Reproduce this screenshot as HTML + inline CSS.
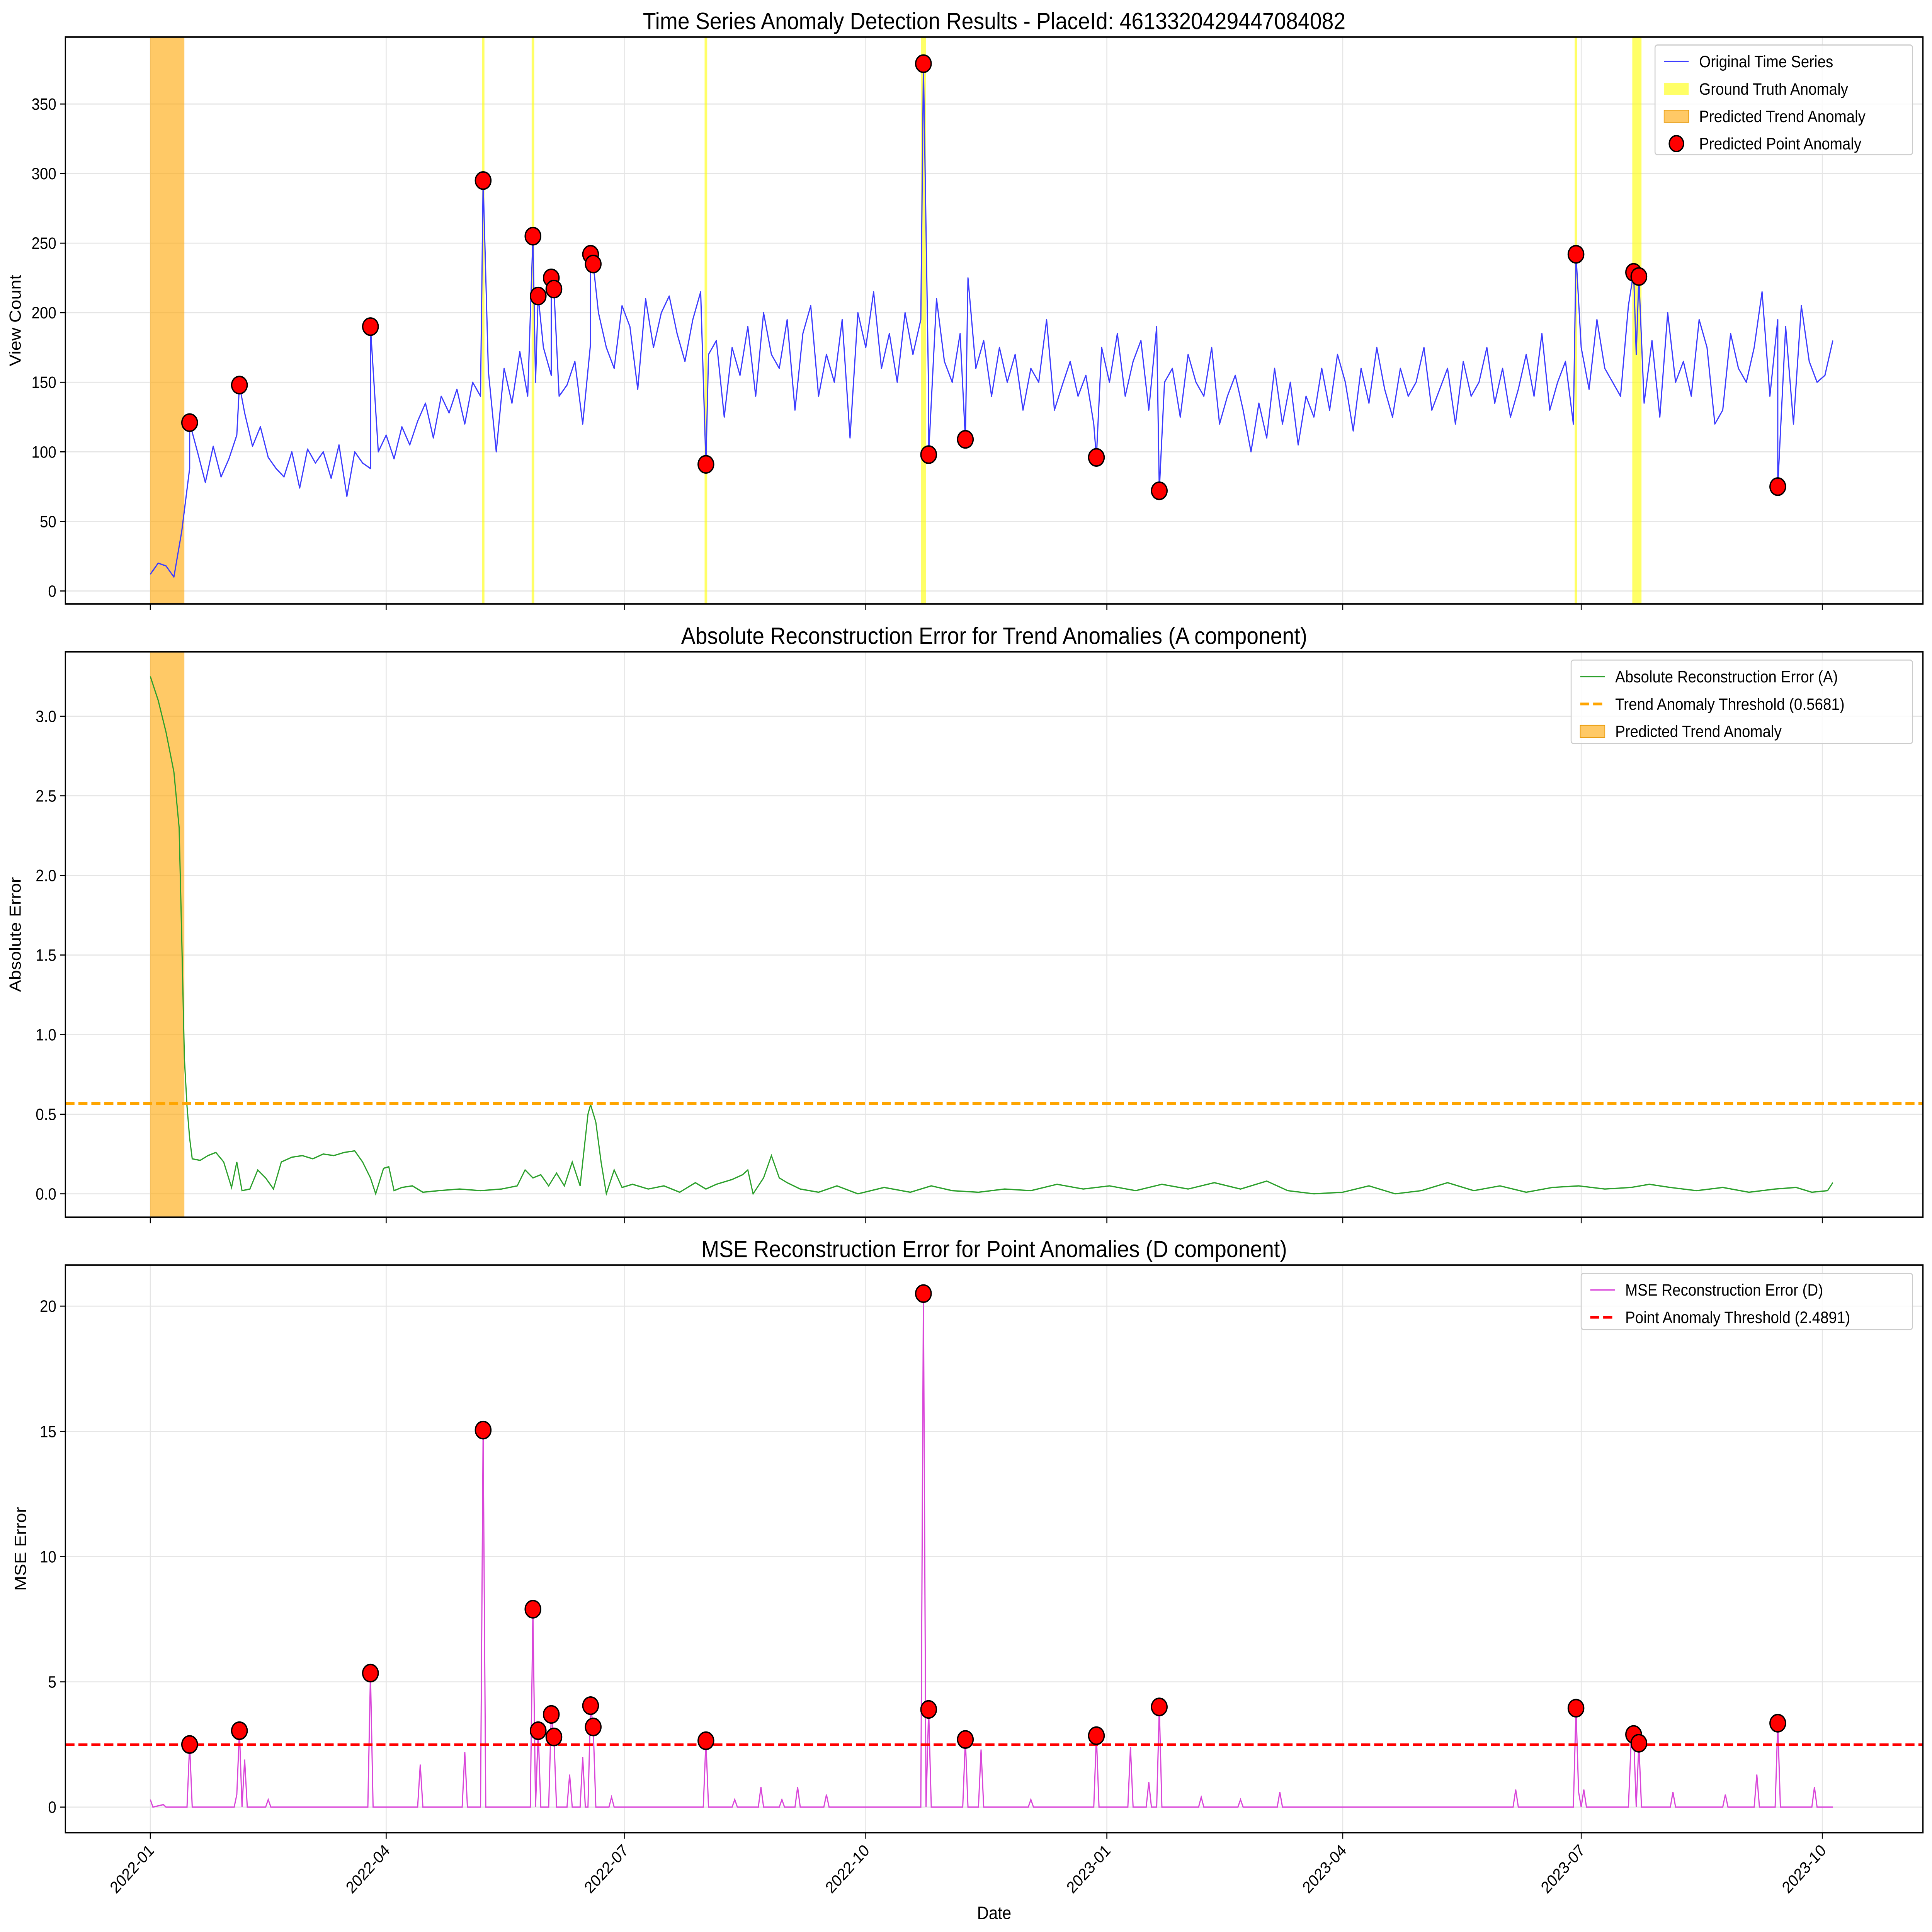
<!DOCTYPE html>
<html><head><meta charset="utf-8"><style>
html,body{margin:0;padding:0;background:#fff;width:100%;height:100%;overflow:hidden;}
svg{display:block;position:absolute;left:0;top:0;width:100vw;height:100vh;font-family:"Liberation Sans","DejaVu Sans",sans-serif;}
</style></head><body>
<svg id="chart" viewBox="0 0 5964 5368" preserveAspectRatio="none" xmlns="http://www.w3.org/2000/svg"></svg>
<script>
// ---- data ----
const tickLabels = ["2022-01","2022-04","2022-07","2022-10","2023-01","2023-04","2023-07","2023-10"];
const tickDays = [0,90,181,273,365,455,546,638];
// view counts, every 3 days from 2022-01-01
const viewVals = [12,20,18,10,43,88,100,78,104,82,
95,112,128,104,118,96,88,82,100,74,
102,92,100,81,105,68,100,92,88,100,
112,95,118,105,122,135,110,140,128,145,
120,150,140,158,100,160,135,172,140,150,
175,155,140,148,165,120,178,200,175,160,
205,190,145,210,175,200,212,185,165,195,
215,170,180,125,175,155,190,140,200,170,
160,195,130,185,205,140,170,150,195,110,
200,175,215,160,185,150,200,170,195,140,
210,165,150,185,225,160,180,140,175,150,
170,130,160,150,195,130,148,165,140,155,
120,175,150,185,140,165,180,130,190,150,
160,125,170,150,140,175,120,140,155,130,
100,135,110,160,120,150,105,140,125,160,
130,170,150,115,160,135,175,145,125,160,
140,150,175,130,145,160,120,165,140,150,
175,135,160,125,145,170,140,185,130,150,
165,120,175,145,195,160,150,140,205,170,
135,180,125,200,150,165,140,195,175,120,
130,185,160,150,175,215,140,195,190,120,
205,165,150,155,180];
const anomDays = [15,34,84,127,146,148,153,154,168,169,212,295,297,311,361,385,544,566,568,621];
const anomVals = [121,148,190,295,255,212,225,217,242,235,91,379,98,109,96,72,242,229,226,75];
const anomD = [2.5,3.05,5.35,15.05,7.9,3.05,3.7,2.8,4.05,3.2,2.65,20.5,3.9,2.7,2.85,4.0,3.95,2.9,2.55,3.35];
const gtStart = [126.5,145.5,211.5,294,543.5,565.5];
const gtEnd = [127.5,146.5,212.5,296,544.5,569];
const trendStart = 0, trendEnd = 13;
const aDays = [0,3,6,9,11,12,13,14,15,16,19,22,25,28,31,33,35,38,41,44,47,50,54,58,62,66,70,74,78,81,84,86,89,91,93,96,100,104,110,118,126,134,140,143,146,149,152,155,158,161,164,167,168,170,172,174,177,180,184,190,196,202,208,212,216,222,226,228,230,234,237,240,243,248,255,262,270,280,290,298,306,316,326,336,346,356,366,376,386,396,406,416,426,434,444,455,465,475,485,495,505,515,525,535,545,555,565,572,580,590,600,610,620,628,634,640,642];
const aVals = [3.25,3.1,2.9,2.65,2.3,1.6,0.85,0.55,0.35,0.22,0.21,0.24,0.26,0.2,0.04,0.2,0.02,0.03,0.15,0.1,0.03,0.2,0.23,0.24,0.22,0.25,0.24,0.26,0.27,0.2,0.1,0.0,0.16,0.17,0.02,0.04,0.05,0.01,0.02,0.03,0.02,0.03,0.05,0.15,0.1,0.12,0.05,0.13,0.05,0.2,0.05,0.5,0.56,0.45,0.2,0.0,0.15,0.04,0.06,0.03,0.05,0.01,0.07,0.03,0.06,0.09,0.12,0.15,0.0,0.1,0.24,0.1,0.07,0.03,0.01,0.05,0.0,0.04,0.01,0.05,0.02,0.01,0.03,0.02,0.06,0.03,0.05,0.02,0.06,0.03,0.07,0.03,0.08,0.02,0.0,0.01,0.05,0.0,0.02,0.07,0.02,0.05,0.01,0.04,0.05,0.03,0.04,0.06,0.04,0.02,0.04,0.01,0.03,0.04,0.01,0.02,0.07];
const dDays = [0,1,5,6,14,15,16,32,33,34,35,36,37,44,45,46,83,84,85,102,103,104,119,120,121,126,127,128,145,146,147,148,149,152,153,154,155,159,160,161,164,165,166,167,168,169,170,175,176,177,211,212,213,222,223,224,232,233,234,240,241,242,246,247,248,257,258,259,294,295,296,297,298,310,311,312,316,317,318,335,336,337,360,361,362,373,374,375,380,381,382,384,385,386,400,401,402,415,416,417,430,431,432,520,521,522,543,544,545,546,547,548,564,565,566,567,568,569,580,581,582,600,601,602,612,613,614,620,621,622,634,635,636,642];
const dVals = [0.3,0,0.1,0,0,2.5,0,0,0.5,3.05,0,1.9,0,0,0.3,0,0,5.35,0,0,1.7,0,0,2.2,0,0,15.05,0,0,7.9,0,3.05,0,0,3.7,2.8,0,0,1.3,0,0,2.0,0,0,4.05,3.2,0,0,0.4,0,0,2.65,0,0,0.3,0,0,0.8,0,0,0.3,0,0,0.8,0,0,0.5,0,0,20.5,0,3.9,0,0,2.7,0,0,2.3,0,0,0.3,0,0,2.85,0,0,2.4,0,0,1.0,0,0,4.0,0,0,0.4,0,0,0.3,0,0,0.6,0,0,0.7,0,0,3.95,0.6,0,0.7,0,0,2.5,2.9,0,2.55,0,0,0.6,0,0,0.5,0,0,1.3,0,0,3.35,0,0,0.8,0,0];

// ---- layout ----
const NS="http://www.w3.org/2000/svg";
const svg=document.getElementById('chart');
const L=202,R=5936;
const X0=464, PXD=8.09;
const x=d=>X0+d*PXD;
function el(tag,attrs,parent){const e=document.createElementNS(NS,tag);for(const k in attrs)e.setAttribute(k,attrs[k]);(parent||svg).appendChild(e);return e;}
function txt(s,attrs,parent){const e=el('text',attrs,parent);e.textContent=s;return e;}
function path(pts){return pts.map((p,i)=>(i?'L':'M')+p[0].toFixed(1)+' '+p[1].toFixed(1)).join('');}

const panels=[
 {top:103,bot:1678,v0:0,p0:1642,v1:350,p1:289,ticks:[0,50,100,150,200,250,300,350],fmt:v=>String(v),title:"Time Series Anomaly Detection Results - PlaceId: 4613320429447084082",ylabel:"View Count",name:"view-count-panel"},
 {top:1811,bot:3382,v0:0,p0:3317,v1:3,p1:1990,ticks:[0,0.5,1,1.5,2,2.5,3],fmt:v=>v.toFixed(1),title:"Absolute Reconstruction Error for Trend Anomalies (A component)",ylabel:"Absolute Error",name:"trend-error-panel"},
 {top:3515,bot:5092,v0:0,p0:5021,v1:20,p1:3629,ticks:[0,5,10,15,20],fmt:v=>String(v),title:"MSE Reconstruction Error for Point Anomalies (D component)",ylabel:"MSE Error",name:"point-error-panel"}
];
panels.forEach((p,pi)=>{
 p.y=v=>p.p0+(v-p.v0)*(p.p1-p.p0)/(p.v1-p.v0);
 const g=el('g',{});
 
 
 p.g=g;
 const cp=el('clipPath',{id:'clip'+pi},g);el('rect',{x:L,y:p.top,width:R-L,height:p.bot-p.top},cp);
 tickDays.forEach(d=>el('line',{x1:x(d),x2:x(d),y1:p.top,y2:p.bot,stroke:'#e5e5e5','stroke-width':3},g));
 p.ticks.forEach(v=>el('line',{x1:L,x2:R,y1:p.y(v),y2:p.y(v),stroke:'#e5e5e5','stroke-width':3},g));
 const t=txt(p.title,{x:(L+R)/2,y:p.top-22,'font-size':66,'text-anchor':'middle',fill:'#000'},g);
 
 
 p.ticks.forEach(v=>{el('line',{x1:L-17,x2:L,y1:p.y(v),y2:p.y(v),stroke:'#000','stroke-width':3},g);
  const tl=txt(p.fmt(v),{x:L-28,y:p.y(v)+16,'font-size':46,'text-anchor':'end'},g);
  
  });
 const yl=txt(p.ylabel,{x:0,y:0,'font-size':50,'text-anchor':'middle',transform:`translate(${pi==2?80:64},${(p.top+p.bot)/2}) rotate(-90)`},g);
 
 
 tickDays.forEach(d=>el('line',{x1:x(d),x2:x(d),y1:p.bot,y2:p.bot+17,stroke:'#000','stroke-width':3},g));
});

// panel 1
{const p=panels[0],g=p.g,c=el('g',{'clip-path':'url(#clip0)'},g);
 const tr=el('rect',{x:x(trendStart),y:p.top,width:x(trendEnd)-x(trendStart),height:p.bot-p.top,fill:'#ffa500','fill-opacity':0.6},c);
 
 
 gtStart.forEach((s,i)=>{const r=el('rect',{x:x(s),y:p.top,width:Math.max(8,x(gtEnd[i])-x(s)),height:p.bot-p.top,fill:'#ffff00','fill-opacity':0.6},c);
  
  });
 const pts=viewVals.map((v,i)=>[i*3,v]).concat(anomDays.map((d,i)=>[d,anomVals[i]])).sort((a,b)=>a[0]-b[0]);
 const ln=el('path',{d:path(pts.map(q=>[x(q[0]),p.y(q[1])])),fill:'none',stroke:'#3c3cff','stroke-width':3.6,'stroke-linejoin':'round'},c);
 
 
 anomDays.forEach((d,i)=>{const m=el('circle',{cx:x(d),cy:p.y(anomVals[i]),r:24,fill:'#ff0000',stroke:'#000','stroke-width':4},c);
  
  });
}
// panel 2
{const p=panels[1],g=p.g,c=el('g',{'clip-path':'url(#clip1)'},g);
 const tr=el('rect',{x:x(trendStart),y:p.top,width:x(trendEnd)-x(trendStart),height:p.bot-p.top,fill:'#ffa500','fill-opacity':0.6},c);
 
 
 const ln=el('path',{d:path(aDays.map((d,i)=>[x(d),p.y(aVals[i])])),fill:'none',stroke:'#2ca02c','stroke-width':3.6},c);
 
 
 const th=el('line',{x1:L,x2:R,y1:p.y(0.5681),y2:p.y(0.5681),stroke:'#ffa500','stroke-width':7.5,'stroke-dasharray':'28 12'},c);
 
 
}
// panel 3
{const p=panels[2],g=p.g,c=el('g',{'clip-path':'url(#clip2)'},g);
 const ln=el('path',{d:path(dDays.map((d,i)=>[x(d),p.y(dVals[i])])),fill:'none',stroke:'#d946d9','stroke-width':3.6},c);
 
 
 const th=el('line',{x1:L,x2:R,y1:p.y(2.4891),y2:p.y(2.4891),stroke:'#ff0000','stroke-width':7.5,'stroke-dasharray':'28 12'},c);
 
 
 anomDays.forEach((d,i)=>{const m=el('circle',{cx:x(d),cy:p.y(anomD[i]),r:24,fill:'#ff0000',stroke:'#000','stroke-width':4},c);
  
  });
 tickLabels.forEach((s,i)=>{const t=txt(s,{x:0,y:0,'font-size':46,'text-anchor':'end',transform:`translate(${x(tickDays[i])+14},${p.bot+52}) rotate(-45)`},g);
  
  });
 const xl=txt('Date',{x:(L+R)/2,y:5332,'font-size':50,'text-anchor':'middle'},g);
 
 
}
panels.forEach(p=>el('rect',{x:L,y:p.top,width:R-L,height:p.bot-p.top,fill:'none',stroke:'#000','stroke-width':4},p.g));

function legend(x0,y0,w,h,items){
 const g=el('g',{});
 
 
 el('rect',{x:x0,y:y0,width:w,height:h,rx:8,fill:'#fff','fill-opacity':0.85,stroke:'#ccc','stroke-width':3},g);
 items.forEach((it,i)=>{const cy=y0+46+i*76;const sx=x0+28;
  if(it.k==='line')el('line',{x1:sx,x2:sx+76,y1:cy,y2:cy,stroke:it.c,'stroke-width':it.w||3.6,'stroke-dasharray':it.dash||'none'},g);
  else if(it.k==='rect')el('rect',{x:sx,y:cy-17,width:76,height:34,fill:it.c,'fill-opacity':0.6,stroke:it.s||'none','stroke-width':2},g);
  else el('circle',{cx:sx+38,cy:cy,r:22,fill:'#f00',stroke:'#000','stroke-width':4},g);
  const t=txt(it.t,{x:sx+108,y:cy+16,'font-size':46},g);
  
  });
}
legend(5109,125,795,305,[{k:'line',c:'#3c3cff',t:'Original Time Series'},{k:'rect',c:'#ffff00',t:'Ground Truth Anomaly'},{k:'rect',c:'#ffa500',s:'#e69500',t:'Predicted Trend Anomaly'},{k:'dot',t:'Predicted Point Anomaly'}]);
legend(4850,1834,1054,232,[{k:'line',c:'#2ca02c',t:'Absolute Reconstruction Error (A)'},{k:'line',c:'#ffa500',w:7.5,dash:'28 12',t:'Trend Anomaly Threshold (0.5681)'},{k:'rect',c:'#ffa500',s:'#e69500',t:'Predicted Trend Anomaly'}]);
legend(4881,3538,1023,156,[{k:'line',c:'#d946d9',t:'MSE Reconstruction Error (D)'},{k:'line',c:'#ff0000',w:7.5,dash:'28 12',t:'Point Anomaly Threshold (2.4891)'}]);
</script>
</body></html>
